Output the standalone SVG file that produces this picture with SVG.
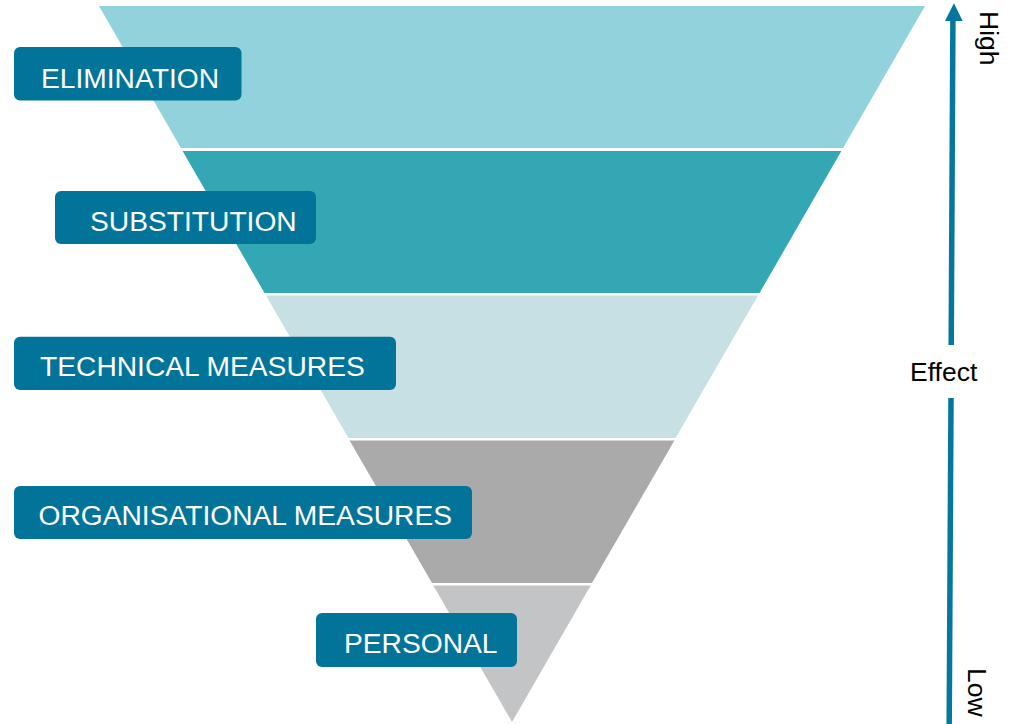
<svg xmlns="http://www.w3.org/2000/svg" width="1009" height="724" viewBox="0 0 1009 724">
  <style>
    .label rect { fill: #02749A; }
    .label text { fill: #ffffff; font-family: "Liberation Sans", Arial, sans-serif; font-size: 28.2px; }
    .axis-text { fill: #000000; font-family: "Liberation Sans", Arial, sans-serif; font-size: 26.5px; }
    .axis { stroke: #05779E; stroke-width: 5.5; fill: none; }
  </style>
  <rect width="1009" height="724" fill="#ffffff"/>

  <!-- Inverted pyramid, five bands -->
  <g id="band-elimination">
    <polygon points="99,6 925,6 843.1,148 180.9,148" fill="#92D2DD"/>
  </g>
  <g id="band-substitution">
    <polygon points="182.6,151 841.4,151 759.5,293 264.5,293" fill="#33A8B4"/>
  </g>
  <g id="band-technical">
    <polygon points="266,295.5 758,295.5 675.5,438 348.5,438" fill="#C7E0E3"/>
  </g>
  <g id="band-organisational">
    <polygon points="349.6,440.5 674.4,440.5 592,583 432,583" fill="#AAAAAA"/>
  </g>
  <g id="band-personal">
    <polygon points="433.3,585.5 590.7,585.5 512,722" fill="#C3C4C6"/>
  </g>

  <!-- Level labels -->
  <g id="label-elimination" class="label">
    <rect x="14" y="47" width="227.5" height="53.5" rx="6"/>
    <text x="41" y="88">ELIMINATION</text>
  </g>
  <g id="label-substitution" class="label">
    <rect x="55" y="191" width="261" height="53" rx="6"/>
    <text x="90" y="230.5">SUBSTITUTION</text>
  </g>
  <g id="label-technical" class="label">
    <rect x="14" y="336.7" width="382" height="53.3" rx="6"/>
    <text x="40" y="375.5">TECHNICAL MEASURES</text>
  </g>
  <g id="label-organisational" class="label">
    <rect x="14" y="486" width="458" height="53" rx="6"/>
    <text x="38.5" y="525">ORGANISATIONAL MEASURES</text>
  </g>
  <g id="label-personal" class="label">
    <rect x="316" y="613" width="201" height="54" rx="6"/>
    <text x="344" y="653">PERSONAL</text>
  </g>

  <!-- Effect axis -->
  <g id="connectors">
    <line class="axis" x1="952.9" y1="20" x2="951.2" y2="345"/>
    <line class="axis" x1="951" y1="398" x2="949.2" y2="724"/>
    <polygon points="953.9,3.3 945,21 962.7,21" fill="#05779E"/>
  </g>
  <g id="axis-labels">
    <text class="axis-text" x="910" y="380.7">Effect</text>
    <text class="axis-text" transform="translate(980,11) rotate(90)">High</text>
    <text class="axis-text" transform="translate(968,668) rotate(90)">Low</text>
  </g>
</svg>
